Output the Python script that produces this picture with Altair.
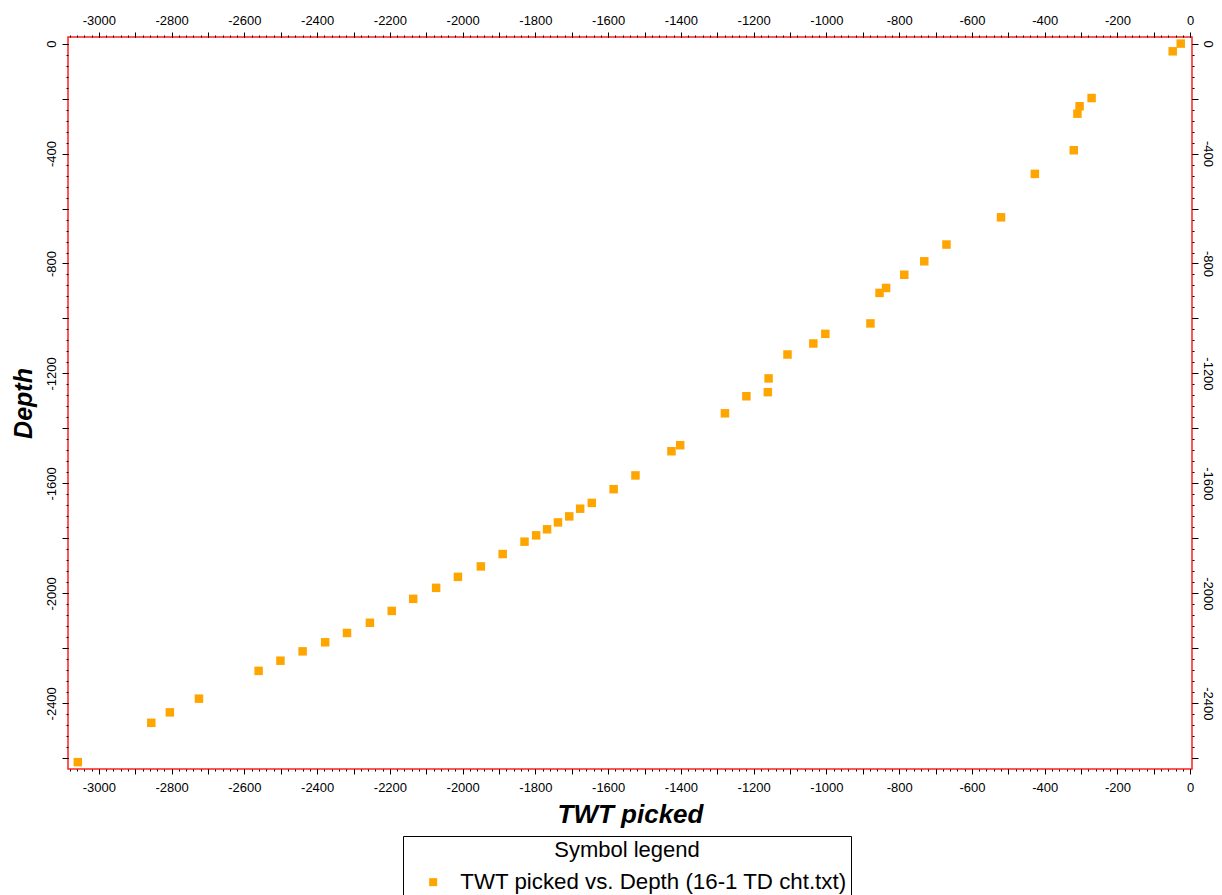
import altair as alt
import pandas as pd

# ---- data ----
twt_picked = [-26, -48, -271, -304, -310, -320, -427, -520, -670, -731, -786,
              -836, -854, -879, -1003, -1036, -1107, -1159, -1161, -1220, -1279,
              -1402, -1426, -1525, -1585, -1645, -1677, -1707, -1738, -1768, -1798,
              -1830, -1890, -1950, -2013, -2073, -2136, -2195, -2255, -2318, -2378,
              -2440, -2501, -2561, -2725, -2805, -2856, -3058]
depth = [0, -28, -198, -228, -255, -388, -474, -632, -731, -792, -841,
         -889, -907, -1018, -1056, -1091, -1131, -1218, -1268, -1283, -1345,
         -1461, -1483, -1571, -1621, -1671, -1692, -1720, -1742, -1767, -1789,
         -1812, -1857, -1902, -1940, -1980, -2020, -2064, -2107, -2144, -2178,
         -2211, -2245, -2282, -2383, -2433, -2471, -2614]
series_name = "TWT picked vs. Depth (16-1 TD cht.txt)"

x_domain = [-3085, 5]
y_domain = [-2639, 24]
x_major_ticks = list(range(-3000, 1, 100))
x_minor_ticks = list(range(-3080, 1, 20))
y_major_ticks = list(range(-2600, 1, 200))
y_minor_ticks = list(range(-2600, 1, 40))

df = pd.DataFrame({"twt": twt_picked, "depth": depth, "series": series_name})

FONT = "Liberation Sans"
W, H = 1124, 732

xs = alt.Scale(domain=x_domain, nice=False, zero=False)
ys = alt.Scale(domain=y_domain, nice=False, zero=False)

common = dict(domain=False, grid=False, tickColor="black", tickWidth=1,
              labelFont=FONT, labelFontSize=13, labelColor="black",
              labelOverlap=False, labelFlush=False)


def minor_axis(orient, values):
    return alt.Axis(orient=orient, values=values, tickSize=2, labels=False,
                    domain=False, grid=False, tickColor="black", tickWidth=1,
                    title=None)


x_label_expr = "datum.value % 200 == 0 ? '' + datum.value : ''"
y_label_expr = "datum.value % 400 == 0 ? '' + datum.value : ''"

x_bottom = alt.Axis(orient="bottom", values=x_major_ticks, tickSize=5,
                    labelExpr=x_label_expr, labelBaseline="top", labelAlign="center",
                    labelPadding=7, title="TWT picked", titleFont=FONT,
                    titleFontSize=26, titleFontWeight="bold", titleFontStyle="italic",
                    titleColor="black", titleX=W / 2, titleY=53, titleAlign="center",
                    titleBaseline="alphabetic", **common)
y_left = alt.Axis(orient="left", values=y_major_ticks, tickSize=6,
                  labelExpr=y_label_expr, labelAngle=270, labelAlign="center",
                  labelBaseline="alphabetic", labelPadding=7, title="Depth",
                  titleFont=FONT, titleFontSize=25, titleFontWeight="bold",
                  titleFontStyle="italic", titleColor="black", titleAngle=270,
                  titleX=-37, titleY=H / 2, titleAlign="center",
                  titleBaseline="alphabetic", **common)
x_top = alt.Axis(orient="top", values=x_major_ticks, tickSize=5,
                 labelExpr=x_label_expr, labelBaseline="alphabetic", labelAlign="center",
                 labelPadding=8, title=None, **common)
y_right = alt.Axis(orient="right", values=y_major_ticks, tickSize=6,
                   labelExpr=y_label_expr, labelAngle=90, labelAlign="center",
                   labelBaseline="alphabetic", labelPadding=5, title=None, **common)

base = alt.Chart(df)

points = base.mark_square(size=72, opacity=1).encode(
    x=alt.X("twt:Q", scale=xs, axis=x_bottom),
    y=alt.Y("depth:Q", scale=ys, axis=y_left),
    color=alt.Color(
        "series:N",
        scale=alt.Scale(range=["#FFA500"]),
        legend=alt.Legend(
            title="Symbol legend", orient="none", legendX=335, legendY=799,
            direction="vertical", strokeColor="black", fillColor="white",
            padding=4, titleFont=FONT, titleFontSize=22, titleFontWeight="normal",
            titleColor="black", titleAnchor="middle", titleAlign="center",
            titlePadding=9, labelFont=FONT, labelFontSize=22.3, labelColor="black",
            labelLimit=1000, symbolType="square", symbolSize=64,
            symbolStrokeWidth=0, symbolOffset=15, labelOffset=16,
        ),
    ),
)

opp_major = base.mark_point(opacity=0).encode(
    x=alt.X("twt:Q", scale=xs, axis=x_top),
    y=alt.Y("depth:Q", scale=ys, axis=y_right),
)
minor_near = base.mark_point(opacity=0).encode(
    x=alt.X("twt:Q", scale=xs, axis=minor_axis("bottom", x_minor_ticks)),
    y=alt.Y("depth:Q", scale=ys, axis=minor_axis("left", y_minor_ticks)),
)
minor_far = base.mark_point(opacity=0).encode(
    x=alt.X("twt:Q", scale=xs, axis=minor_axis("top", x_minor_ticks)),
    y=alt.Y("depth:Q", scale=ys, axis=minor_axis("right", y_minor_ticks)),
)

chart = (
    alt.layer(minor_near, minor_far, opp_major, points)
    .resolve_axis(x="independent", y="independent")
    .properties(
        width=W, height=H,
        autosize=alt.AutoSizeParams(type="none"),
        padding={"left": 68, "top": 37, "right": 30, "bottom": 126},
        background="white",
    )
    .configure_view(stroke="#FF2020", strokeWidth=1.5)
)

chart.save("out.html", embed_options={"renderer": "svg", "actions": False})
